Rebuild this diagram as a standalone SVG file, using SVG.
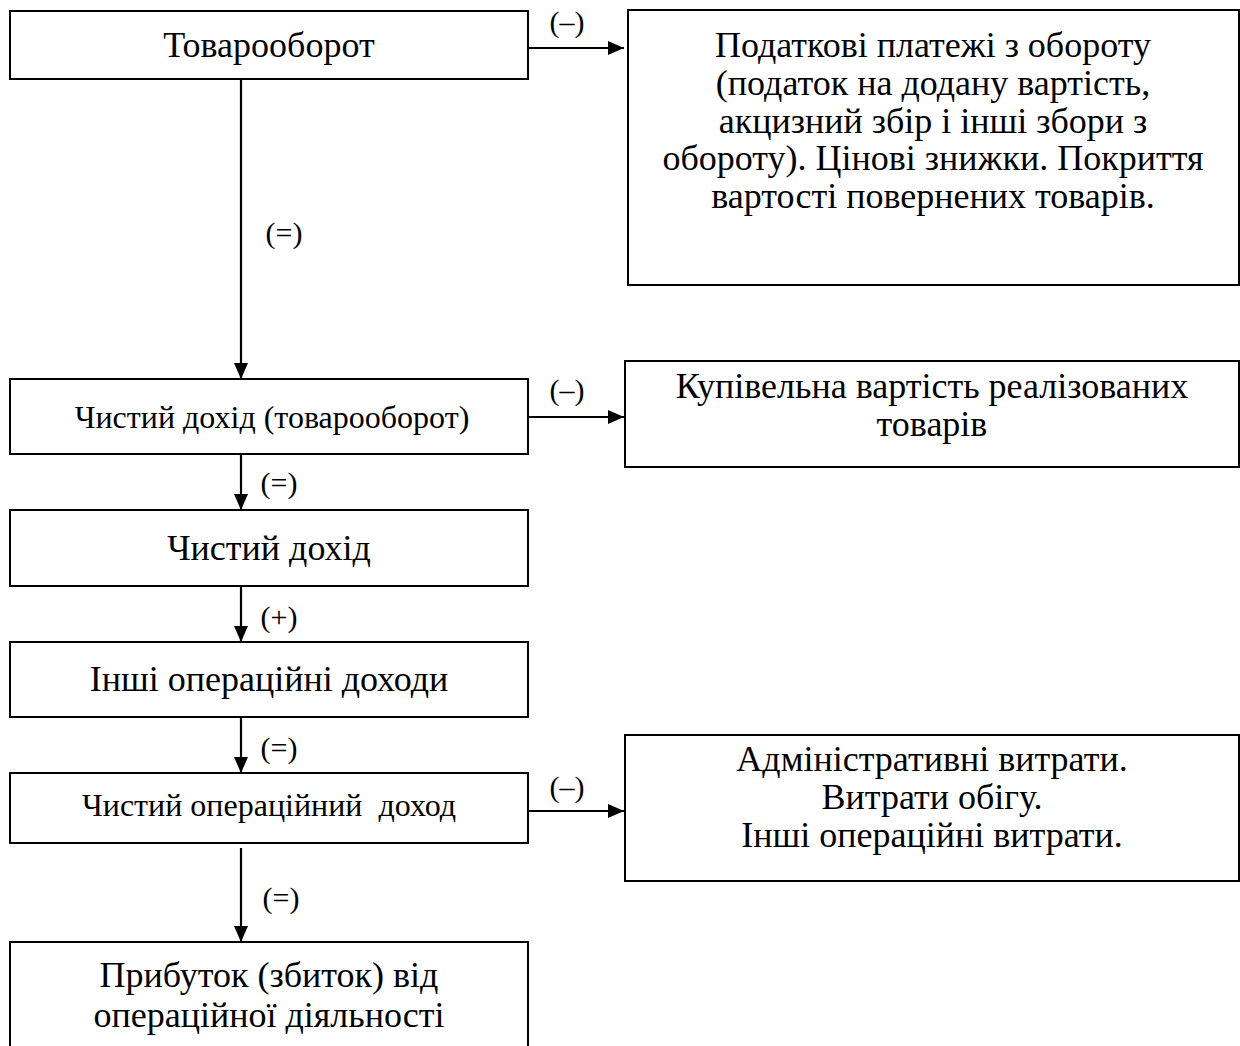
<svg xmlns="http://www.w3.org/2000/svg" width="1240" height="1046" viewBox="0 0 1240 1046">
<style>
.box{fill:#fff;stroke:#000;stroke-width:2}
.t{font-family:"Liberation Serif","Times New Roman",serif;font-size:36px;fill:#000;text-anchor:middle}
.s{font-size:32px}
.lbl{font-family:"Liberation Serif","Times New Roman",serif;font-size:30px;fill:#000;text-anchor:middle}
.c{stroke:#000;stroke-width:2.2;fill:none;marker-end:url(#ah)}
</style>
<defs>
<marker id="ah" markerUnits="userSpaceOnUse" markerWidth="16" markerHeight="14" refX="16" refY="7" orient="auto">
<path d="M0,0 L16,7 L0,14 Z" fill="#000"/>
</marker>
</defs>
<rect width="1240" height="1046" fill="#fff"/>
<g id="connectors">
<line class="c" x1="528" y1="48" x2="624" y2="48"/>
<line class="c" x1="241" y1="80" x2="241" y2="379"/>
<line class="c" x1="528" y1="417" x2="624" y2="417"/>
<line class="c" x1="241" y1="455" x2="241" y2="510"/>
<line class="c" x1="241" y1="587" x2="241" y2="642"/>
<line class="c" x1="241" y1="718" x2="241" y2="773"/>
<line class="c" x1="528" y1="811" x2="624" y2="811"/>
<line class="c" x1="241" y1="848" x2="241" y2="942"/>
<text class="lbl" x="567" y="32">(–)</text>
<text class="lbl" x="284" y="243">(=)</text>
<text class="lbl" x="567" y="400">(–)</text>
<text class="lbl" x="279" y="493">(=)</text>
<text class="lbl" x="279" y="627">(+)</text>
<text class="lbl" x="279" y="758">(=)</text>
<text class="lbl" x="567" y="797">(–)</text>
<text class="lbl" x="281" y="908">(=)</text>
</g>
<g id="n1"><rect class="box" x="10" y="11" width="518" height="68"/><text class="t" x="269" y="57">Товарооборот</text></g>
<g id="n2"><rect class="box" x="628" y="10" width="611" height="275"/>
<text class="t" x="933"><tspan x="933" y="57">Податкові платежі з обороту</tspan><tspan x="933" y="95">(податок на додану вартість,</tspan><tspan x="933" y="132.5">акцизний збір і інші збори з</tspan><tspan x="933" y="170">обороту). Цінові знижки. Покриття</tspan><tspan x="933" y="208">вартості повернених товарів.</tspan></text></g>
<g id="n3"><rect class="box" x="10" y="379" width="518" height="75"/><text class="t s" x="272" y="428">Чистий дохід (товарооборот)</text></g>
<g id="n4"><rect class="box" x="625" y="361" width="614" height="106"/>
<text class="t" x="932"><tspan x="932" y="398">Купівельна вартість реалізованих</tspan><tspan x="932" y="436">товарів</tspan></text></g>
<g id="n5"><rect class="box" x="10" y="510" width="518" height="76"/><text class="t" x="269" y="560">Чистий дохід</text></g>
<g id="n6"><rect class="box" x="10" y="642" width="518" height="75"/><text class="t" x="269" y="691">Інші операційні доходи</text></g>
<g id="n7"><rect class="box" x="10" y="773" width="518" height="70"/><text class="t s" x="269" y="816" xml:space="preserve">Чистий операційний  доход</text></g>
<g id="n8"><rect class="box" x="625" y="735" width="614" height="146"/>
<text class="t" x="932"><tspan x="932" y="771">Адміністративні витрати.</tspan><tspan x="932" y="809">Витрати обігу.</tspan><tspan x="932" y="847">Інші операційні витрати.</tspan></text></g>
<g id="n9"><rect class="box" x="10" y="942" width="518" height="110"/>
<text class="t" x="269"><tspan x="269" y="987">Прибуток (збиток) від</tspan><tspan x="269" y="1027">операційної діяльності</tspan></text></g>
</svg>
